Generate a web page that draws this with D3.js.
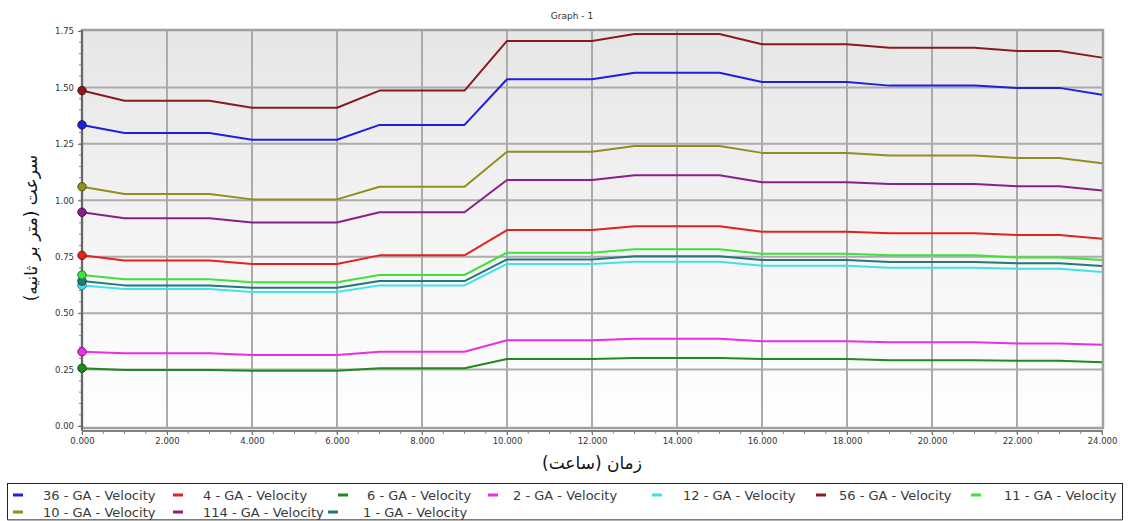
<!DOCTYPE html>
<html>
<head>
<meta charset="utf-8">
<script src="https://cdn.jsdelivr.net/npm/d3@7"></script>
<style>
  html, body { margin: 0; padding: 0; background: #ffffff; }
  svg { display: block; font-family: "DejaVu Sans", Verdana, sans-serif; }
</style>
</head>
<body>
<svg id="chart" width="1129" height="521"></svg>
<script>
// ---------------- DATA ----------------
const hours = [0,1,2,3,4,5,6,7,8,9,10,11,12,13,14,15,16,17,18,19,20,21,22,23,24];

const seriesNames = ["36 - GA - Velocity","4 - GA - Velocity","6 - GA - Velocity","2 - GA - Velocity",
  "12 - GA - Velocity","56 - GA - Velocity","11 - GA - Velocity","10 - GA - Velocity",
  "114 - GA - Velocity","1 - GA - Velocity"];

const v36  = [1.334,1.298,1.298,1.298,1.268,1.268,1.268,1.334,1.334,1.334,1.536,1.536,1.536,1.565,1.565,1.565,1.524,1.524,1.524,1.508,1.508,1.508,1.498,1.498,1.468];
const v4   = [0.756,0.733,0.733,0.733,0.718,0.718,0.718,0.756,0.756,0.756,0.868,0.868,0.868,0.885,0.885,0.885,0.861,0.861,0.861,0.854,0.854,0.854,0.846,0.846,0.830];
const v6   = [0.256,0.248,0.248,0.248,0.245,0.245,0.245,0.256,0.256,0.256,0.297,0.297,0.297,0.301,0.301,0.301,0.297,0.297,0.297,0.291,0.291,0.291,0.289,0.289,0.282];
const v2   = [0.329,0.322,0.322,0.322,0.315,0.315,0.315,0.329,0.329,0.329,0.380,0.380,0.380,0.387,0.387,0.387,0.375,0.375,0.375,0.371,0.371,0.371,0.366,0.366,0.360];
const v12  = [0.623,0.607,0.607,0.607,0.594,0.594,0.594,0.623,0.623,0.623,0.718,0.718,0.718,0.728,0.728,0.728,0.710,0.710,0.710,0.701,0.701,0.701,0.697,0.697,0.682];
const v56  = [1.486,1.441,1.441,1.441,1.410,1.410,1.410,1.486,1.486,1.486,1.706,1.706,1.706,1.737,1.737,1.737,1.691,1.691,1.691,1.676,1.676,1.676,1.661,1.661,1.632];
const v11  = [0.669,0.650,0.650,0.650,0.637,0.637,0.637,0.669,0.669,0.669,0.768,0.768,0.768,0.783,0.783,0.783,0.763,0.763,0.763,0.756,0.756,0.756,0.747,0.747,0.735];
const v10  = [1.060,1.028,1.028,1.028,1.004,1.004,1.004,1.060,1.060,1.060,1.215,1.215,1.215,1.241,1.241,1.241,1.210,1.210,1.210,1.198,1.198,1.198,1.187,1.187,1.164];
const v114 = [0.947,0.920,0.920,0.920,0.902,0.902,0.902,0.947,0.947,0.947,1.090,1.090,1.090,1.111,1.111,1.111,1.080,1.080,1.080,1.072,1.072,1.072,1.062,1.062,1.043];
const v1   = [0.642,0.623,0.623,0.623,0.613,0.613,0.613,0.642,0.642,0.642,0.738,0.738,0.738,0.752,0.752,0.752,0.735,0.735,0.735,0.727,0.727,0.727,0.721,0.721,0.709];

const seriesValues = [v36, v4, v6, v2, v12, v56, v11, v10, v114, v1];

const xTicks = [0,2,4,6,8,10,12,14,16,18,20,22,24];
const yTicks = [0,0.25,0.5,0.75,1.0,1.25,1.5,1.75];

const titleText = "Graph - 1";
const xLabel = "زمان (ساعت)";
const yLabel = "سرعت (متر بر ثانیه)";

// ---------------- STYLE / LAYOUT ----------------
const colors = ["#1f1fe0","#e3221e","#1f8a1f","#ea2ee6","#3fe3e6","#8a1a1e","#3ee23a","#8f8f1c","#8a1f8c","#23787f"];
const markerStroke = ["#10106a","#7a1010","#124a12","#7a147a","#1e7f82","#4a0c0e","#1c7a1a","#4f4f0e","#4a104c","#124045"];

const plot = { left: 82, right: 1103, top: 30, bottom: 428 };

const svg = d3.select("#chart");

const x = d3.scaleLinear().domain([0, 24]).range([plot.left, 1102]);
const y = d3.scaleLinear().domain([0, 1.75]).range([426, 31]);

// background gradient
const defs = svg.append("defs");
const grad = defs.append("linearGradient").attr("id","bg").attr("x1",0).attr("y1",0).attr("x2",0).attr("y2",1);
grad.append("stop").attr("offset","0%").attr("stop-color","#e6e6e6");
grad.append("stop").attr("offset","55%").attr("stop-color","#f5f5f5");
grad.append("stop").attr("offset","100%").attr("stop-color","#ffffff");

svg.append("rect")
  .attr("x", plot.left).attr("y", plot.top)
  .attr("width", plot.right - plot.left).attr("height", plot.bottom - plot.top)
  .attr("fill", "url(#bg)");

// title
svg.append("text").attr("x", 572).attr("y", 19).attr("text-anchor","middle")
  .attr("font-size", 9).attr("fill","#333").text(titleText);

// grid
const grid = svg.append("g");
grid.selectAll(".vg").data(xTicks.filter(d => d > 0 && d < 24)).enter().append("line")
  .attr("x1", d => x(d)).attr("x2", d => x(d))
  .attr("y1", plot.top).attr("y2", plot.bottom)
  .attr("stroke", "#ababab").attr("stroke-width", 2);
grid.selectAll(".hg").data(yTicks.filter(d => d > 0 && d < 1.75)).enter().append("line")
  .attr("x1", plot.left).attr("x2", plot.right)
  .attr("y1", d => y(d)).attr("y2", d => y(d))
  .attr("stroke", "#ababab").attr("stroke-width", 2);

// frame
svg.append("rect")
  .attr("x", plot.left).attr("y", plot.top)
  .attr("width", plot.right - plot.left).attr("height", plot.bottom - plot.top)
  .attr("fill", "none").attr("stroke", "#a0a0a0").attr("stroke-width", 2.5);
svg.append("line").attr("x1", plot.left).attr("x2", plot.left).attr("y1", plot.top).attr("y2", 431)
  .attr("stroke", "#555").attr("stroke-width", 1.5);
svg.append("line").attr("x1", plot.left).attr("x2", plot.right).attr("y1", 431).attr("y2", 431)
  .attr("stroke", "#555").attr("stroke-width", 1.5);

// axes via d3
const yAxis = d3.axisLeft(y).tickValues(yTicks).tickFormat(d3.format(".2f")).tickSize(3).tickPadding(4);
const yG = svg.append("g").attr("transform", `translate(${plot.left - 1},0)`).call(yAxis);
yG.select(".domain").remove();
yG.selectAll("text").attr("font-size", 8.5).attr("fill", "#333").attr("font-family", "DejaVu Sans, sans-serif");
yG.selectAll("line").attr("stroke", "#666");
const yMinor = d3.range(0, 1.7501, 0.05);
svg.append("g").selectAll("line").data(yMinor).enter().append("line")
  .attr("x1", plot.left - 3).attr("x2", plot.left - 1)
  .attr("y1", d => y(d)).attr("y2", d => y(d)).attr("stroke", "#888").attr("stroke-width", 1);

const xAxis = d3.axisBottom(x).tickValues(xTicks).tickFormat(d3.format(".3f")).tickSize(3).tickPadding(3);
const xG = svg.append("g").attr("transform", `translate(0,432)`).call(xAxis);
xG.select(".domain").remove();
xG.selectAll("text").attr("font-size", 8.5).attr("fill", "#333").attr("font-family", "DejaVu Sans, sans-serif");
xG.selectAll("line").attr("stroke", "#666");
const xMinor = d3.range(0, 24.001, 0.5);
svg.append("g").selectAll("line").data(xMinor).enter().append("line")
  .attr("x1", d => x(d)).attr("x2", d => x(d))
  .attr("y1", 432).attr("y2", 434).attr("stroke", "#888").attr("stroke-width", 1);

// axis labels
svg.append("text").attr("x", 592).attr("y", 469).attr("text-anchor", "middle")
  .attr("font-size", 17).attr("fill", "#111").attr("direction","rtl").text(xLabel);
svg.append("text").attr("transform", "translate(37,228) rotate(-90)").attr("text-anchor", "middle")
  .attr("font-size", 17).attr("fill", "#111").attr("direction","rtl").text(yLabel);

// lines
const line = d3.line().x((d, i) => x(hours[i])).y(d => y(d));
const drawOrder = [2,3,4,9,6,1,8,7,0,5];
const linesG = svg.append("g");
drawOrder.forEach(i => {
  linesG.append("path").datum(seriesValues[i])
    .attr("d", line).attr("fill", "none")
    .attr("stroke", colors[i]).attr("stroke-width", 2).attr("stroke-linejoin", "round");
});
drawOrder.forEach(i => {
  linesG.append("circle").attr("cx", x(hours[0])).attr("cy", y(seriesValues[i][0]))
    .attr("r", 4.2).attr("fill", colors[i]).attr("stroke", markerStroke[i]).attr("stroke-width", 1);
});

// legend
const legendBox = svg.append("g");
legendBox.append("rect").attr("x", 7.5).attr("y", 483.5).attr("width", 1115).attr("height", 36)
  .attr("fill", "#fff").attr("stroke", "#222").attr("stroke-width", 1);
legendBox.append("line").attr("x1", 7.5).attr("x2", 1122.5).attr("y1", 520).attr("y2", 520)
  .attr("stroke", "#999").attr("stroke-width", 1.5);

const legendPos = [
  [13, 43, 495], [173, 203, 495], [338, 367, 495], [488, 513, 495], [652, 683, 495], [816, 839, 495], [971, 1004, 495],
  [13, 43, 512], [173, 203, 512], [328, 363, 512]
];
seriesNames.forEach((name, i) => {
  const [sx, tx, ty] = legendPos[i];
  legendBox.append("rect").attr("x", sx).attr("y", ty - 1.5).attr("width", 10).attr("height", 3)
    .attr("fill", colors[i]);
  legendBox.append("text").attr("x", tx).attr("y", ty + 4.5).attr("font-size", 13)
    .attr("fill", "#3a3a3a").text(name);
});
</script>
</body>
</html>
